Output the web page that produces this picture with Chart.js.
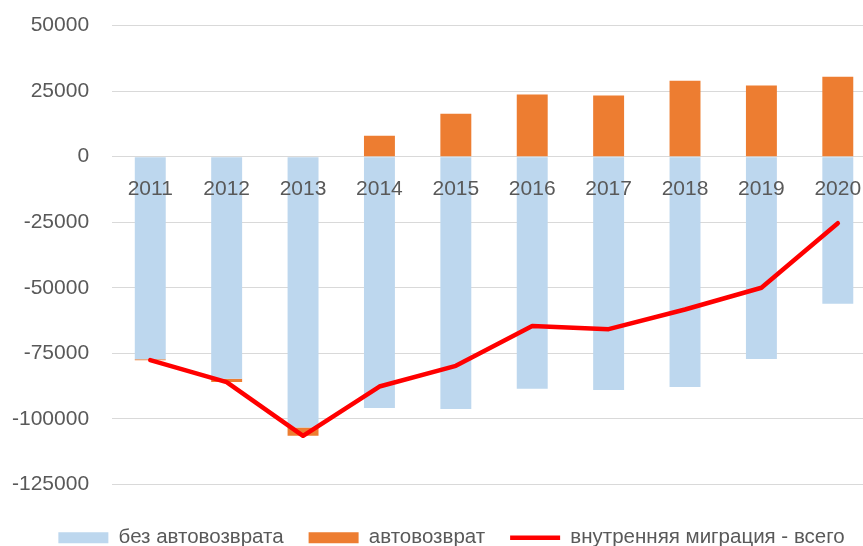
<!DOCTYPE html>
<html>
<head>
<meta charset="utf-8">
<script src="https://cdn.jsdelivr.net/npm/chart.js@4.4.0/dist/chart.umd.min.js"></script>
<style>
  html, body { margin: 0; padding: 0; background: #fff; overflow: hidden; }
  #wrap { width: 903px; height: 556px; margin-top: -10px; }
</style>
</head>
<body>
<div id="wrap"><canvas id="migration-chart" width="903" height="556"></canvas></div>
<script>
const years = ['2011', '2012', '2013', '2014', '2015', '2016', '2017', '2018', '2019', '2020'];
const noAutoReturn = [-77250, -84700, -103300, -95900, -96300, -88500, -89000, -87900, -77200, -56100];
const autoReturn = [-400, -1300, -3200, 8000, 16400, 23700, 23300, 29000, 27100, 30500];
const totalMigration = [-77600, -86000, -106500, -87700, -79800, -64600, -65800, -58300, -50000, -25400];

const tickFont = { family: '"Liberation Sans", Arial, sans-serif', size: 21 };
const gray = '#595959';

// legend in the original sits a bit right of centre
const legendShift = {
  id: 'legendShift',
  afterLayout(chart) {
    chart.legend.left += 19;
    chart.legend.right += 19;
  }
};

new Chart(document.getElementById('migration-chart'), {
  type: 'bar',
  data: {
    labels: years,
    datasets: [{
      label: 'без автовозврата',
      data: noAutoReturn,
      backgroundColor: '#bdd7ee',
      borderWidth: 0,
      stack: 'bars',
      order: 1,
      barPercentage: 0.405,
      categoryPercentage: 1
    }, {
      label: 'автовозврат',
      data: autoReturn,
      backgroundColor: '#ed7d31',
      borderWidth: 0,
      stack: 'bars',
      order: 1,
      barPercentage: 0.405,
      categoryPercentage: 1
    }, {
      type: 'line',
      label: 'внутренняя миграция - всего',
      data: totalMigration,
      borderColor: '#ff0000',
      backgroundColor: '#ff0000',
      borderWidth: 4.5,
      borderCapStyle: 'round',
      borderJoinStyle: 'round',
      pointRadius: 0,
      tension: 0,
      stack: 'line',
      order: 0
    }]
  },
  plugins: [legendShift],
  options: {
    responsive: false,
    animation: false,
    layout: {
      padding: { top: 4, left: -11, right: 27, bottom: -12 }
    },
    plugins: {
      tooltip: { enabled: false },
      legend: {
        position: 'bottom',
        title: { display: true, text: '', font: { size: 1 }, padding: { top: 0, bottom: 17 } },
        labels: {
          font: { family: '"Liberation Sans", Arial, sans-serif', size: 20.5 },
          color: gray,
          usePointStyle: true,
          pointStyleWidth: 50,
          boxHeight: 11,
          padding: 25,
          sort: (a, b) => a.datasetIndex - b.datasetIndex,
          generateLabels: (chart) => {
            const items = Chart.defaults.plugins.legend.labels.generateLabels(chart);
            items.forEach(item => {
              if (item.datasetIndex === 2) {
                item.pointStyle = 'line';
                item.lineWidth = 4.5;
                item.strokeStyle = '#ff0000';
              } else {
                item.pointStyle = 'rect';
                item.lineWidth = 0;
              }
            });
            return items;
          }
        }
      }
    },
    scales: {
      x: {
        stacked: true,
        position: { y: 0 },
        grid: { display: false },
        border: { display: false },
        ticks: { font: tickFont, color: gray, padding: 12, maxRotation: 0, z: 1 }
      },
      y: {
        stacked: true,
        min: -125000,
        max: 50000,
        grid: { color: '#d9d9d9', lineWidth: 1, drawTicks: false },
        border: { display: false },
        ticks: {
          stepSize: 25000,
          font: tickFont,
          color: gray,
          padding: 23,
          callback: (value) => String(value)
        }
      }
    }
  }
});
</script>
</body>
</html>
